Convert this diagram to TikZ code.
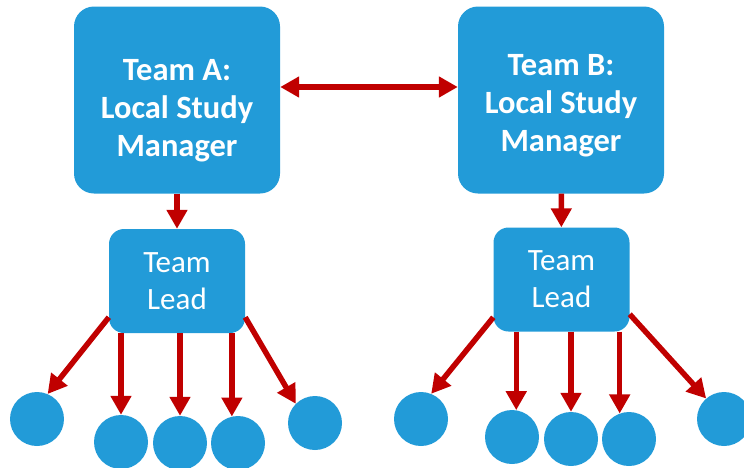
\documentclass[tikz,border=0pt]{standalone}
\usepackage{fontspec}
\setmainfont{Carlito}
\usetikzlibrary{arrows.meta}
\definecolor{boxblue}{RGB}{34,155,216}
\definecolor{arrred}{RGB}{192,0,0}

\begin{document}
\begin{tikzpicture}[x=1pt,y=-1pt]
    \tikzstyle{manager}=[rectangle,rounded corners=20pt,fill=boxblue,text=white,align=center,minimum width=206pt,minimum height=187pt,inner sep=0pt,font=\fontsize{32.5}{38}\selectfont\bfseries]
    \tikzstyle{lead}=[rectangle,rounded corners=15pt,fill=boxblue,text=white,align=center,minimum width=136pt,minimum height=104pt,inner sep=0pt,font=\fontsize{31}{37}\selectfont]
    \tikzstyle{member}=[circle,fill=boxblue,inner sep=0pt,minimum size=54pt]
    \tikzstyle{arr}=[draw=arrred,line width=5.5pt,-{Triangle[length=19pt,width=20pt]}]
    \tikzstyle{dblarr}=[draw=arrred,line width=5.5pt,{Triangle[length=19pt,width=20pt]}-{Triangle[length=19pt,width=20pt]}]
    \clip (0,0) rectangle (744,467);
    \node (mgrA)[manager,text height=118pt] at (177,100) {Team A:\\Local Study\\Manager};
    \node (mgrB)[manager,text height=108pt] at (561,100) {Team B:\\Local Study\\Manager};
    \node (leadA)[lead]   at (177,281) {Team\\Lead};
    \node (leadB)[lead]   at (561.5,279.5) {Team\\Lead};

    \node (a1)[member] at (37,419) {};
    \node (a2)[member] at (121,442) {};
    \node (a3)[member] at (180,443) {};
    \node (a4)[member] at (238,443) {};
    \node (a5)[member] at (315,423) {};
    \node (b1)[member] at (421,419) {};
    \node (b2)[member] at (512,437) {};
    \node (b3)[member] at (571,439) {};
    \node (b4)[member] at (629,439) {};
    \node (b5)[member] at (724,419) {};

    \draw[dblarr] ([yshift=13pt]mgrA.east) -- ([yshift=13pt]mgrB.west);
    \draw[arr] (mgrA) -- (leadA);
    \draw[arr] (mgrB) -- (leadB);
    \draw[arr] (leadA.208) -- (a1.67);
    \draw[arr] (leadA.south -| a2.90) -- (a2.90);
    \draw[arr] (leadA.south -| a3.90) -- (a3.90);
    \draw[arr] (leadA.south -| a4.103) -- (a4.103);
    \draw[arr] (leadA.332) -- (a5.135);
    \draw[arr] (leadB.209) -- (b1.68);
    \draw[arr] (leadB.south -| b2.81) -- (b2.81);
    \draw[arr] (leadB.south -| b3.90) -- (b3.90);
    \draw[arr] (leadB.south -| b4.110) -- (b4.110);
    \draw[arr] (leadB.333) -- (b5.131);
\end{tikzpicture}
\end{document}
